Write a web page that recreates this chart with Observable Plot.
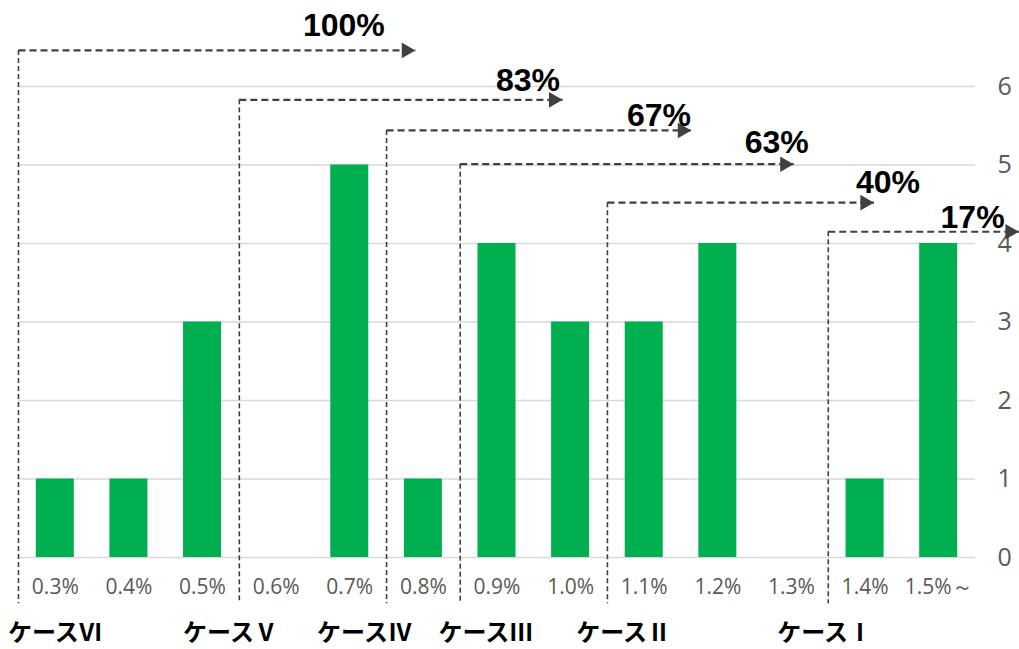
<!DOCTYPE html>
<html><head><meta charset="utf-8">
<script src="https://cdn.jsdelivr.net/npm/d3@7"></script>
<script src="https://cdn.jsdelivr.net/npm/@observablehq/plot@0.6"></script>
<style>body{margin:0;background:#fff} svg{display:block}</style>
</head><body><div id="chart"></div>
<script>
const categories = ["0.3%","0.4%","0.5%","0.6%","0.7%","0.8%","0.9%","1.0%","1.1%","1.2%","1.3%","1.4%","1.5%～"];
const counts = [1,1,3,0,5,1,4,3,3,4,0,1,4];
const yTicks = [0,1,2,3,4,5,6];

const caseNames = ["ケースⅥ","ケースⅤ","ケースⅣ","ケースⅢ","ケースⅡ","ケースⅠ"];
const caseStart = [0,3,5,6,8,11];          // index of first category of each case
const caseShare = ["100%","83%","67%","63%","40%","17%"];
const arrowLevel = [6.46,5.83,5.44,5.01,4.52,4.15];
const arrowEnd = [5.39,7.39,9.14,10.53,11.62,13.59];
const shareLabelX = [4.42,6.92,8.70,10.30,11.81,12.96];
const shareLabelLevel = [6.64,5.94,5.50,5.15,4.64,4.20];
const caseLabelX = [0.5,2.88,4.70,6.35,8.22,10.95];

const bars = categories.map((c, i) => ({i, c, v: counts[i]}));
const cases = caseNames.map((n, k) => ({
  name: n, start: caseStart[k], share: caseShare[k], level: arrowLevel[k],
  end: arrowEnd[k], lx: shareLabelX[k], ly: shareLabelLevel[k], cx: caseLabelX[k]
}));

const tickFont = "'Open Sans', 'Noto Sans', sans-serif";
const chart = Plot.plot({
  width: 1019,
  height: 649,
  marginLeft: 18,
  marginRight: 44,
  marginTop: 86,
  marginBottom: 92,
  x: {type: "linear", domain: [0, 13], axis: null},
  y: {domain: [0, 6], axis: null},
  style: {background: "#fff", overflow: "visible"},
  marks: [
    Plot.gridY(yTicks, {stroke: "#d9d9d9", strokeOpacity: 1, strokeWidth: 1.5}),
    Plot.rectY(bars, {x1: "i", x2: d => d.i + 1, y: "v", fill: "#00b050", insetLeft: 17.8, insetRight: 17.8}),
    Plot.axisX(d3.range(categories.length).map(i => i + 0.5), {
      tickFormat: d => categories[Math.round(d - 0.5)], tickSize: 0, tickPadding: 22,
      fontSize: 21, fontFamily: tickFont, color: "#595959", label: null
    }),
    Plot.axisY(yTicks, {
      anchor: "right", tickSize: 0, tickPadding: 22, fontSize: 25,
      tickFormat: d => String(d),
      fontFamily: tickFont, color: "#595959", label: null
    }),
    Plot.ruleX(cases, {x: "start", y1: "level", y2: -0.59, stroke: "#404040", strokeWidth: 1.6, strokeDasharray: "5,3"}),
    Plot.link(cases, {x1: "start", x2: "end", y1: "level", y2: "level", stroke: "#404040", strokeWidth: 2.2, strokeDasharray: "7,4"}),
    Plot.dot(cases, {x: "end", y: "level", symbol: "triangle", rotate: 90, r: 5.8, fill: "#404040", stroke: null, dx: -9}),
    Plot.text(cases, {x: "lx", y: "ly", text: "share", fontSize: 32, fontWeight: "bold",
      fontFamily: "'Liberation Sans', Arial, sans-serif", fill: "#000", lineAnchor: "bottom"}),
    Plot.text(cases, {x: "cx", y: -0.97, text: "name", fontSize: 24, fontWeight: "bold",
      fontFamily: "'Noto Sans CJK JP', sans-serif", fill: "#000"})
  ]
});
document.getElementById("chart").append(chart);
</script>
</body></html>
